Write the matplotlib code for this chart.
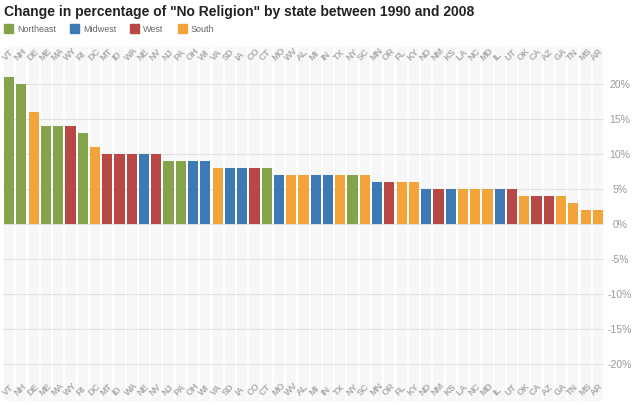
import numpy as np
import matplotlib.pyplot as plt
from matplotlib.patches import Rectangle

plt.rcParams['font.family'] = ['Liberation Sans', 'DejaVu Sans']

# dados
estados = ['VT', 'NH', 'DE', 'ME', 'MA', 'WY', 'RI', 'DC', 'MT', 'ID', 'WA', 'NE', 'NV',
           'NJ', 'PA', 'OH', 'WI', 'VA', 'SD', 'IA', 'CO', 'CT', 'MO', 'WV', 'AL', 'MI',
           'IN', 'TX', 'NY', 'SC', 'MN', 'OR', 'FL', 'KY', 'ND', 'NM', 'KS', 'LA', 'NC',
           'MD', 'IL', 'UT', 'OK', 'CA', 'AZ', 'GA', 'TN', 'MS', 'AR']
variacao = [21, 20, 16, 14, 14, 14, 13, 11, 10, 10, 10, 10, 10,
            9, 9, 9, 9, 8, 8, 8, 8, 8, 7, 7, 7, 7,
            7, 7, 7, 7, 6, 6, 6, 6, 5, 5, 5, 5, 5,
            5, 5, 5, 4, 4, 4, 4, 3, 2, 2]
regiao = ['Northeast', 'Northeast', 'South', 'Northeast', 'Northeast', 'West', 'Northeast',
          'South', 'West', 'West', 'West', 'Midwest', 'West',
          'Northeast', 'Northeast', 'Midwest', 'Midwest', 'South', 'Midwest', 'Midwest',
          'West', 'Northeast', 'Midwest', 'South', 'South', 'Midwest',
          'Midwest', 'South', 'Northeast', 'South', 'Midwest', 'West', 'South', 'South',
          'Midwest', 'West', 'Midwest', 'South', 'South',
          'South', 'Midwest', 'West', 'South', 'West', 'West', 'South', 'South', 'South', 'South']
regioes = ['Northeast', 'Midwest', 'West', 'South']
cores = {'Northeast': '#84A34A', 'Midwest': '#3D79B4', 'West': '#B84846', 'South': '#F2A43B'}
yticks = [-20, -15, -10, -5, 0, 5, 10, 15, 20]

fig = plt.figure(figsize=(6.37, 4.06), dpi=100)
ax = fig.add_axes([3 / 637, 1 - 402 / 406, 601 / 637, 354 / 406])

x = np.arange(len(estados))
larg = 0.83

# faixas cinza de fundo
for xi in x:
    ax.add_patch(Rectangle((xi - larg / 2, -30), larg, 60, color='#f7f7f7', lw=0, zorder=0))

for y in yticks:
    ax.axhline(y, color='#e2e2e2', lw=0.8, zorder=1)

ax.bar(x, variacao, width=larg, color=[cores[r] for r in regiao], zorder=2)

# rótulos dos estados em cima e embaixo
for xi, est in zip(x, estados):
    for yy in (23.4, -24.4):
        ax.text(xi - 0.3, yy, est, rotation=45, rotation_mode='anchor', ha='left',
                va='baseline', fontsize=6.6, color='#ababab', fontweight='bold')

ax.set_xlim(-0.5, len(estados) - 0.5)
ax.set_ylim(-25.3, 25.3)
ax.axis('off')

for y in yticks:
    fig.text(620 / 637, ax.transData.transform((0, y))[1] / 406, f'{y}%',
             ha='center', va='center', fontsize=7.5, color='#999999')

fig.text(4 / 637, 1 - 12 / 406, 'Change in percentage of "No Religion" by state between 1990 and 2008',
         fontsize=10, fontweight='bold', color='#222222', va='center', ha='left')

# legenda manual
xl = 4
for r in regioes:
    fig.patches.append(Rectangle((xl / 637, 1 - 34 / 406), 9 / 637, 9 / 406,
                                 transform=fig.transFigure, color=cores[r]))
    t = fig.text((xl + 13) / 637, 1 - 29.5 / 406, r, fontsize=6.5, color='#666666', va='center')
    larg_txt = t.get_window_extent(fig.canvas.get_renderer()).width
    xl = xl + 13 + larg_txt + 14

fig.savefig('out.png', dpi=100)
